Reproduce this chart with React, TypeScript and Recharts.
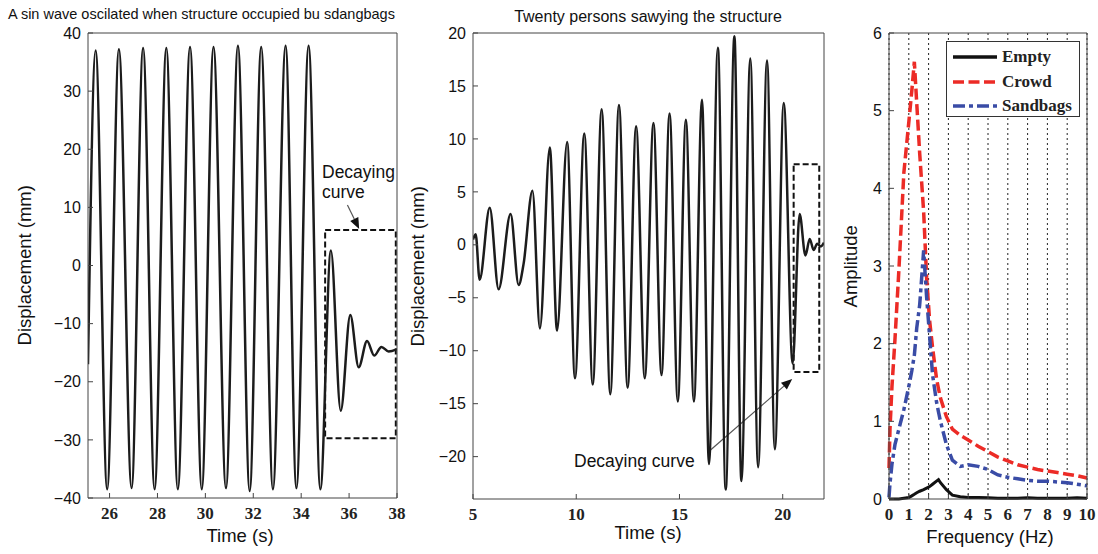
import React from 'react';
import { LineChart, Line, XAxis, YAxis, ReferenceArea, ReferenceLine, CartesianGrid, Legend } from 'recharts';

// left panel: sandbag sine test (extrema)
const sinTime = [25.1, 25.42, 25.9, 26.39, 26.92, 27.4, 27.88, 28.37, 28.85, 29.36, 29.85, 30.34, 30.86, 31.36, 31.85, 32.33, 32.82, 33.35, 33.8, 34.31, 34.8, 35.24, 35.65, 36.05, 36.4, 36.75, 37.05, 37.35, 37.65, 38.0];
const sinDisp = [-17, 37, -38.5, 37.2, -38.3, 37.4, -38.5, 37.4, -38.5, 37.6, -38.5, 37.6, -38.3, 37.8, -38.8, 37.6, -38.5, 37.8, -38.3, 37.8, -38.5, 2.6, -25, -8.5, -17.5, -13, -15.5, -14, -14.8, -14.4];
const sinXTicks = [26, 28, 30, 32, 34, 36, 38];
const sinYTicks = [-40, -30, -20, -10, 0, 10, 20, 30, 40];

// middle panel: twenty persons swaying
const swayTime = [5.0, 5.13, 5.32, 5.81, 6.24, 6.82, 7.21, 7.45, 7.88, 8.24, 8.72, 9.07, 9.56, 9.94, 10.39, 10.8, 11.23, 11.65, 12.07, 12.49, 12.9, 13.32, 13.74, 14.13, 14.52, 14.92, 15.31, 15.7, 16.09, 16.43, 16.86, 17.24, 17.66, 18.0, 18.43, 18.81, 19.24, 19.62, 20.05, 20.48, 20.82, 21.1, 21.31, 21.5, 21.67, 21.85, 22.0];
const swayDisp = [0.5, 1.0, -3.3, 3.5, -4.2, 2.9, -3.8, -1.8, 5.1, -7.9, 9.2, -8.1, 9.7, -12.6, 10.5, -13.2, 12.8, -14.1, 13.2, -13.5, 11.2, -12.6, 11.5, -12.3, 12.4, -14.8, 11.8, -14.8, 13.7, -20.7, 18.6, -23.1, 19.7, -22.3, 17.6, -21.0, 17.4, -19.3, 13.4, -11.2, 2.9, -1.0, 0.55, -0.5, 0.1, -0.15, 0.2];
const swayXTicks = [5, 10, 15, 20];
const swayYTicks = [-20, -15, -10, -5, 0, 5, 10, 15, 20];

// right panel: spectra
const freq = [0, 0.05, 0.15, 0.3, 0.5, 0.75, 1.0, 1.15, 1.28, 1.4, 1.55, 1.75, 1.9, 2.05, 2.2, 2.4, 2.5, 2.6, 2.9, 3.2, 3.6, 4.0, 4.5, 5.0, 5.5, 6.0, 6.5, 7.0, 7.5, 8.0, 8.5, 9.0, 9.5, 10];
const empty = [0, 0, 0, 0, 0, 0.01, 0.02, 0.04, 0.06, 0.08, 0.1, 0.12, 0.14, 0.16, 0.19, 0.23, 0.25, 0.21, 0.12, 0.05, 0.03, 0.02, 0.02, 0.015, 0.01, 0.01, 0.01, 0.015, 0.01, 0.01, 0.01, 0.01, 0.015, 0.01];
const crowd = [0.4, 0.9, 1.45, 2.05, 2.95, 4.2, 4.85, 5.25, 5.63, 5.1, 4.45, 3.7, 2.85, 2.3, 1.95, 1.55, 1.42, 1.3, 1.06, 0.9, 0.82, 0.76, 0.68, 0.61, 0.54, 0.49, 0.44, 0.41, 0.38, 0.36, 0.34, 0.32, 0.3, 0.27];
const sandbags = [0.02, 0.2, 0.45, 0.7, 0.9, 1.15, 1.45, 1.65, 1.85, 2.2, 2.5, 3.2, 2.6, 2.1, 1.6, 1.25, 1.12, 1.0, 0.7, 0.5, 0.42, 0.44, 0.42, 0.38, 0.31, 0.28, 0.26, 0.24, 0.23, 0.23, 0.22, 0.21, 0.19, 0.17];
const freqTicks = [0, 1, 2, 3, 4, 5, 6, 7, 8, 9, 10];
const ampTicks = [0, 1, 2, 3, 4, 5, 6];

const sinData = sinTime.map((t, i) => ({ t, d: sinDisp[i] }));
const swayData = swayTime.map((t, i) => ({ t, d: swayDisp[i] }));
const specData = freq.map((f, i) => ({ f, empty: empty[i], crowd: crowd[i], sandbags: sandbags[i] }));

const SANS = '"Liberation Sans", Arial, sans-serif';
const SERIF = '"Liberation Serif", "Times New Roman", serif';
const AXIS = '#444';
const TRACE = '#1c1c1c';

const series = [
  { key: 'empty', name: 'Empty', color: '#111111', dash: undefined },
  { key: 'crowd', name: 'Crowd', color: '#ec2b26', dash: '11 4.5' },
  { key: 'sandbags', name: 'Sandbags', color: '#3a4ca6', dash: '12 4 4 4' },
];

const minus = (v: number) => (v < 0 ? `\u2212${Math.abs(v)}` : `${v}`);

const yTick = { fill: '#111', fontSize: 16, fontFamily: SANS };
const xTick = { fill: '#222', fontSize: 17, fontFamily: SERIF, fontWeight: 'bold' };

// line with a filled head, drawn between two data points
const Arrow = (props: any) => {
  const { x1, y1, x2, y2 } = props;
  const a = Math.atan2(y2 - y1, x2 - x1);
  const len = 11;
  const w = 4.5;
  const bx = x2 - len * Math.cos(a);
  const by = y2 - len * Math.sin(a);
  const px = -Math.sin(a) * w;
  const py = Math.cos(a) * w;
  return (
    <g>
      <line x1={x1} y1={y1} x2={bx} y2={by} stroke="#555" strokeWidth={1.2} />
      <polygon points={`${x2},${y2} ${bx + px},${by + py} ${bx - px},${by - py}`} fill="#111" />
    </g>
  );
};

const Txt = ({ x, base, size = 18.5, center = false, bold = false, family = SANS, children }: any) => (
  <div
    style={{
      position: 'absolute',
      left: x,
      top: base - 0.8465 * size,
      fontSize: size,
      lineHeight: `${size}px`,
      fontFamily: family,
      fontWeight: bold ? 'bold' : 'normal',
      whiteSpace: 'nowrap',
      color: '#111',
      transform: center ? 'translateX(-50%)' : undefined,
    }}
  >
    {children}
  </div>
);

const VTxt = ({ cx, cy, size = 18.5, children }: any) => (
  <div
    style={{
      position: 'absolute',
      left: cx - 150,
      top: cy - size / 2,
      width: 300,
      height: size,
      fontSize: size,
      lineHeight: `${size}px`,
      fontFamily: SANS,
      textAlign: 'center',
      whiteSpace: 'nowrap',
      color: '#111',
      transform: 'rotate(-90deg)',
    }}
  >
    {children}
  </div>
);

const SpecLegend = () => (
  <div style={{ position: 'relative', width: 134, height: 76, border: '1px solid #333', background: '#fff', boxSizing: 'border-box' }}>
    {series.map((s, i) => (
      <div key={s.key} style={{ position: 'absolute', left: 6, top: 4 + i * 24.6, height: 22, display: 'flex', alignItems: 'center' }}>
        <svg width={44} height={10}>
          <line x1={0} y1={5} x2={44} y2={5} stroke={s.color} strokeWidth={3.5} strokeDasharray={s.dash} />
        </svg>
        <span style={{ marginLeft: 5, fontFamily: SERIF, fontWeight: 'bold', fontSize: 17, color: '#222', lineHeight: '22px' }}>{s.name}</span>
      </div>
    ))}
  </div>
);

// shared axis props: ticks point inward on all four sides (matlab box)
const common = { type: 'number' as const, interval: 0 as const, stroke: AXIS, tickSize: -5 };

export default function App() {
  return (
    <div style={{ position: 'absolute', left: 0, top: 0, width: 1098, height: 554, background: '#fff', overflow: 'hidden' }}>
      {/* left panel */}
      <div style={{ position: 'absolute', left: 0, top: 0 }}>
        <LineChart width={412} height={554} data={sinData} margin={{ top: 32, right: 14, bottom: 0, left: 0 }}>
          <XAxis dataKey="t" {...common} domain={[25.1, 38]} ticks={sinXTicks} allowDataOverflow height={56} tickMargin={14} tick={xTick} />
          <XAxis xAxisId="top" orientation="top" {...common} domain={[25.1, 38]} ticks={sinXTicks} allowDataOverflow height={1} tick={false} />
          <YAxis {...common} domain={[-40, 40]} ticks={sinYTicks} width={88} tickMargin={12} tick={yTick} tickFormatter={minus} />
          <YAxis yAxisId="right" orientation="right" {...common} domain={[-40, 40]} ticks={sinYTicks} width={1} tick={false} />
          <ReferenceArea x1={35.0} x2={37.95} y1={-29.7} y2={6.1} fill="none" stroke="#111" strokeWidth={2} strokeDasharray="6 3" />
          <ReferenceLine segment={[{ x: 35.93, y: 10.4 }, { x: 36.42, y: 6.3 }]} shape={Arrow} />
          <Line dataKey="d" type="monotone" stroke={TRACE} strokeWidth={2.5} dot={false} activeDot={false} isAnimationActive={false} />
        </LineChart>
      </div>

      {/* middle panel */}
      <div style={{ position: 'absolute', left: 400, top: 0 }}>
        <LineChart width={440} height={554} data={swayData} margin={{ top: 32, right: 15, bottom: 0, left: 0 }}>
          <XAxis dataKey="t" {...common} domain={[5, 22]} ticks={swayXTicks} allowDataOverflow height={55} tickMargin={14} tick={xTick} />
          <XAxis xAxisId="top" orientation="top" {...common} domain={[5, 22]} ticks={swayXTicks} allowDataOverflow height={1} tick={false} />
          <YAxis {...common} domain={[-24, 20]} ticks={swayYTicks} width={73} tickMargin={12} tick={yTick} tickFormatter={minus} />
          <YAxis yAxisId="right" orientation="right" {...common} domain={[-24, 20]} ticks={swayYTicks} width={1} tick={false} />
          <ReferenceArea x1={20.53} x2={21.77} y1={-12.0} y2={7.6} fill="none" stroke="#111" strokeWidth={2} strokeDasharray="6 3" />
          <ReferenceLine segment={[{ x: 16.49, y: -19.4 }, { x: 20.46, y: -12.66 }]} shape={Arrow} />
          <Line dataKey="d" type="monotone" stroke={TRACE} strokeWidth={2.5} dot={false} activeDot={false} isAnimationActive={false} />
        </LineChart>
      </div>

      {/* right panel */}
      <div style={{ position: 'absolute', left: 840, top: 0 }}>
        <LineChart width={258} height={554} data={specData} margin={{ top: 32, right: 10, bottom: 0, left: 0 }}>
          <CartesianGrid horizontal={false} stroke="#222" strokeDasharray="2 3" />
          <XAxis dataKey="f" {...common} domain={[0, 10]} ticks={freqTicks} height={55} tickMargin={14} tick={xTick} />
          <XAxis xAxisId="top" orientation="top" {...common} domain={[0, 10]} ticks={freqTicks} height={1} tick={false} />
          <YAxis {...common} domain={[0, 6]} ticks={ampTicks} width={49} tickMargin={12} tick={yTick} />
          <YAxis yAxisId="right" orientation="right" {...common} domain={[0, 6]} ticks={ampTicks} width={1} tick={false} />
          <Legend layout="vertical" align="center" verticalAlign="middle" content={<SpecLegend />} wrapperStyle={{ left: 106, top: 41, width: 134, height: 76 }} />
          <Line dataKey="crowd" name="Crowd" type="linear" stroke="#ec2b26" strokeWidth={3.5} strokeDasharray="11 4.5" dot={false} activeDot={false} isAnimationActive={false} />
          <Line dataKey="sandbags" name="Sandbags" type="linear" stroke="#3a4ca6" strokeWidth={3.5} strokeDasharray="12 4 4 4" dot={false} activeDot={false} isAnimationActive={false} />
          <Line dataKey="empty" name="Empty" type="linear" stroke="#111" strokeWidth={3} dot={false} activeDot={false} isAnimationActive={false} />
        </LineChart>
      </div>

      {/* titles and axis labels */}
      <Txt x={8} base={19} size={14.5}>A sin wave oscilated when structure occupied bu sdangbags</Txt>
      <Txt x={648} base={23} size={16} center>Twenty persons sawying the structure</Txt>
      <Txt x={322} base={179.3} size={17.5}>Decaying</Txt>
      <Txt x={322} base={198.5} size={17.5}>curve</Txt>
      <Txt x={574} base={467.5} size={17.5}>Decaying curve</Txt>
      <Txt x={240} base={543} center>Time (s)</Txt>
      <Txt x={648} base={539.5} center>Time (s)</Txt>
      <Txt x={990} base={544} center>Frequency (Hz)</Txt>
      <VTxt cx={25.3} cy={265.5}>Displacement (mm)</VTxt>
      <VTxt cx={417.5} cy={266}>Displacement (mm)</VTxt>
      <VTxt cx={850.6} cy={266}>Amplitude</VTxt>
    </div>
  );
}
